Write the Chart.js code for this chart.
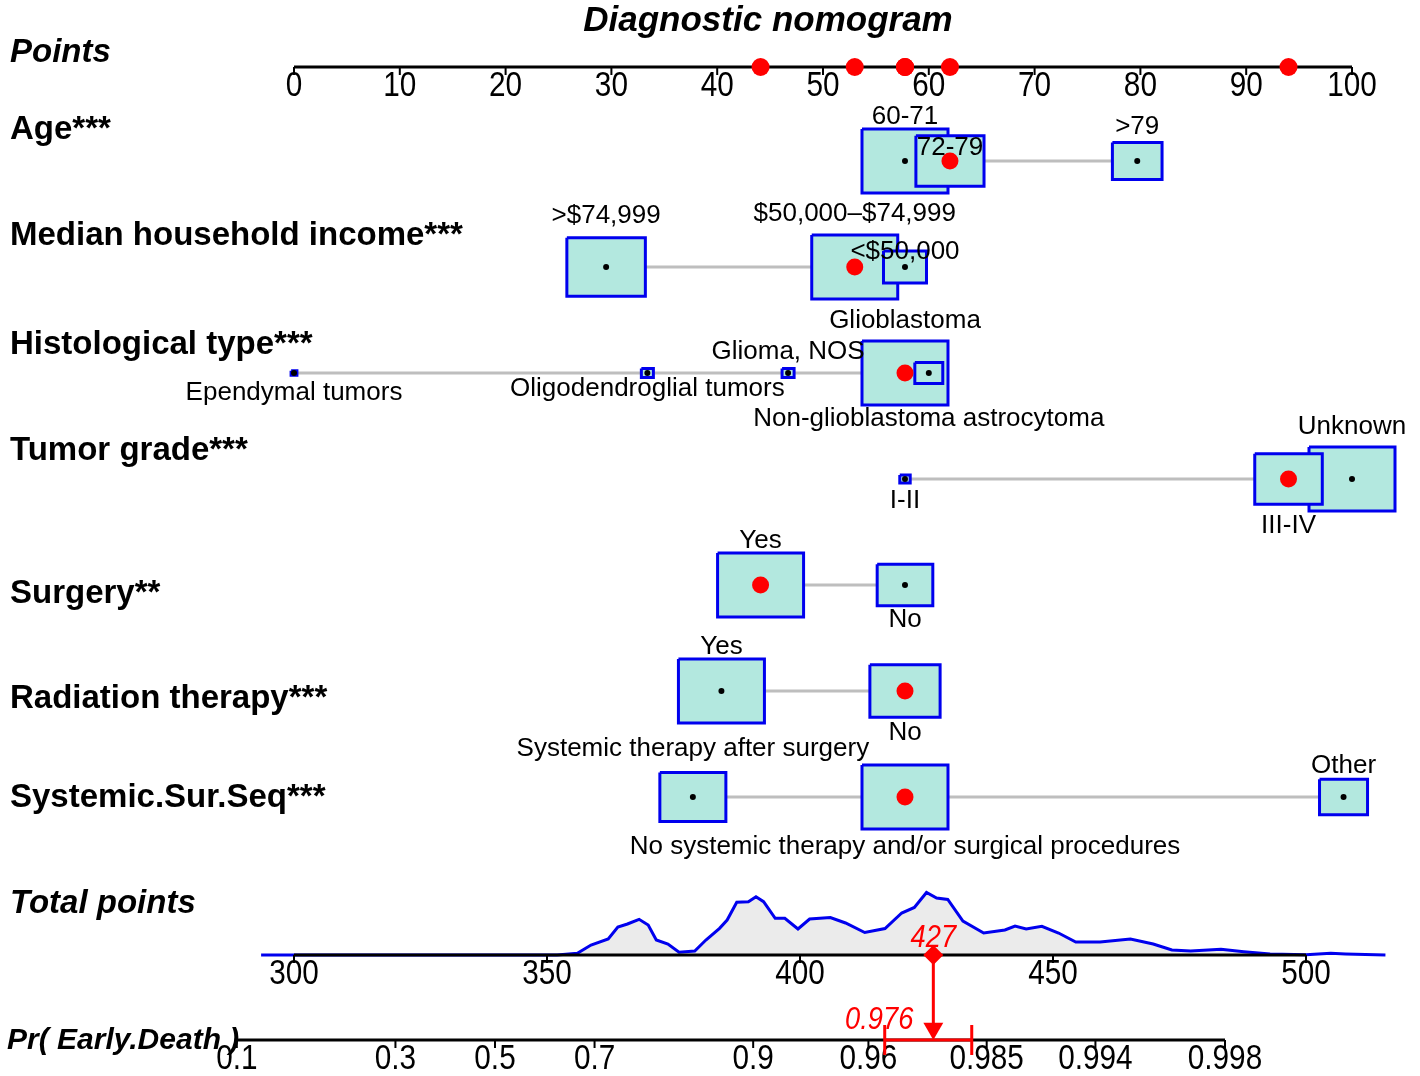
<!DOCTYPE html>
<html>
<head>
<meta charset="utf-8">
<script src="https://cdn.jsdelivr.net/npm/chart.js@4.4.1/dist/chart.umd.min.js"></script>
<style>
    html, body { margin: 0; padding: 0; background: #fff; }
    #wrap { width: 1420px; height: 1076px; }
</style>
</head>
<body>
<div id="wrap"><canvas id="nomogram-chart" width="1420" height="1076"></canvas></div>
<script>
// ---- data ----
var variableNames = ['Age', 'Median household income', 'Histological type', 'Tumor grade',
    'Surgery', 'Radiation therapy', 'Systemic.Sur.Seq'];
var significance = ['***', '***', '***', '***', '**', '***', '***'];

var ageLevels = ['60-71', '72-79', '>79'];
var agePoints = [57.75, 62.0, 79.7];
var ageFreq = [0.51, 0.32, 0.17];

var incomeLevels = ['>$74,999', '$50,000–$74,999', '<$50,000'];
var incomePoints = [29.5, 53.0, 57.75];
var incomeFreq = [0.40, 0.48, 0.12];

var histLevels = ['Ependymal tumors', 'Oligodendroglial tumors', 'Glioma, NOS', 'Glioblastoma',
    'Non-glioblastoma astrocytoma'];
var histPoints = [0, 33.4, 46.7, 57.75, 60.0];
var histFreq = [0.004, 0.017, 0.017, 0.87, 0.092];

var gradeLevels = ['I-II', 'III-IV', 'Unknown'];
var gradePoints = [57.75, 94.0, 100];
var gradeFreq = [0.009, 0.378, 0.613];

var surgeryLevels = ['Yes', 'No'];
var surgeryPoints = [44.1, 57.75];
var surgeryFreq = [0.705, 0.295];

var radiationLevels = ['Yes', 'No'];
var radiationPoints = [40.4, 57.75];
var radiationFreq = [0.60, 0.40];

var systemicLevels = ['Systemic therapy after surgery', 'No systemic therapy and/or surgical procedures', 'Other'];
var systemicPoints = [37.7, 57.75, 99.2];
var systemicFreq = [0.31, 0.526, 0.164];

// chosen level of each variable (red dots)
var selectedLevel = [1, 1, 3, 1, 0, 1, 1];

var pointsTicks = [0, 10, 20, 30, 40, 50, 60, 70, 80, 90, 100];
var totalTicks = [300, 350, 400, 450, 500];
var probTicks = [0.1, 0.3, 0.5, 0.7, 0.9, 0.96, 0.985, 0.994, 0.998];
var probTickLabels = ['0.1', '0.3', '0.5', '0.7', '0.9', '0.96', '0.985', '0.994', '0.998'];

// density of total points (relative height)
var totalGrid = [293.5, 299, 352, 356, 358.7, 362.1, 364, 365.9, 368.2, 370, 371.6, 373.9, 376.1, 379.2,
    381.4, 384.1, 385.6, 387.5, 389.8, 391.3, 392.8, 395.1, 397, 399.6, 401.9, 406, 409, 412.8, 416.8,
    420.1, 422.6, 425, 427, 429.2, 432.2, 436.3, 440.5, 442.5, 444.7, 447.8, 451.1, 454.5, 459.3, 465.3,
    469.8, 473.5, 477.2, 483.2, 487.7, 492.9, 500, 504.9, 507.8, 515.7];
var totalDensity = [0, 0, 0, 0.027, 0.16, 0.256, 0.448, 0.496, 0.571, 0.48, 0.24, 0.176, 0.043, 0.064,
    0.24, 0.427, 0.56, 0.843, 0.853, 0.933, 0.853, 0.587, 0.587, 0.416, 0.576, 0.6, 0.512, 0.36, 0.424,
    0.672, 0.76, 1.0, 0.912, 0.888, 0.544, 0.352, 0.4, 0.464, 0.416, 0.459, 0.352, 0.208, 0.208, 0.256,
    0.176, 0.08, 0.064, 0.091, 0.053, 0.016, 0.005, 0.027, 0.016, 0];

var totalScoreLabel = '427';
var predictedProb = 0.976;
var probCI = [0.965, 0.983];

// ---- layout ----
var W = 1420, H = 1076;
var PX_PER_POINT = 10.58, POINTS_ZERO_PX = 294;
var PX_PER_TOTAL = 5.06, TOTAL_300_PX = 294;
var PX_PER_LOGIT = 117.5, LOGIT_ZERO_PX = 495;
var PX_PER_ROW = 106, ROW1_PX = 161;
var PX_PER_DENS = 62.5, DENS_BASE_PX = 955;
var BOX_W = 86, BOX_H = 64;

var BLUE = '#0000ee', BOX_FILL = '#b3e8df', GREY = '#bebebe', RED = '#ff0000';
var FAMILY = '"Liberation Sans", Arial, sans-serif';

function rowAt(px) { return 1 + (px - ROW1_PX) / PX_PER_ROW; }
var POINTS_ROW = rowAt(67), TOTAL_ROW = rowAt(955), PROB_ROW = rowAt(1040);

function logit(p) { return Math.log(p / (1 - p)); }

// label offsets (px from row centre)
var nameDy = [-31, -31, -28, -28, 9, 8, 1];
var levelDy = [[-44, -13, -34], [-51, -53, -15], [20, 16, -21, -52, 46], [22, 47, -52],
    [-44, 35], [-44, 42], [-48, 50, -31]];

var levels = [ageLevels, incomeLevels, histLevels, gradeLevels, surgeryLevels, radiationLevels, systemicLevels];
var points = [agePoints, incomePoints, histPoints, gradePoints, surgeryPoints, radiationPoints, systemicPoints];
var freqs = [ageFreq, incomeFreq, histFreq, gradeFreq, surgeryFreq, radiationFreq, systemicFreq];

// ---- datasets ----
var datasets = [];

datasets.push({
    label: 'density', xAxisID: 'xt', yAxisID: 'yd',
    data: totalGrid.map(function (t, i) { return {x: t, y: totalDensity[i]}; }),
    borderColor: BLUE, borderWidth: 3, backgroundColor: '#ebebeb',
    fill: {value: 0}, pointRadius: 0, tension: 0, order: 100
});

var totalSum = 0;
points.forEach(function (pts, v) {
    var row = v + 1;
    var lo = Math.min.apply(null, pts), hi = Math.max.apply(null, pts);
    datasets.push({
        label: 'line' + v, data: [{x: lo, y: row}, {x: hi, y: row}],
        borderColor: GREY, borderWidth: 3, fill: false, pointRadius: 0, order: 90
    });
    var fmax = Math.max.apply(null, freqs[v]);
    pts.forEach(function (p, k) {
        var s = Math.sqrt(freqs[v][k] / fmax);
        var hw = BOX_W * s / PX_PER_POINT / 2;
        var hh = BOX_H * s / PX_PER_ROW / 2;
        datasets.push({
            label: levels[v][k],
            data: [{x: p - hw, y: row - hh}, {x: p + hw, y: row - hh}, {x: p + hw, y: row + hh},
                {x: p - hw, y: row + hh}, {x: p - hw, y: row - hh}],
            borderColor: BLUE, borderWidth: 3, backgroundColor: BOX_FILL,
            fill: 'shape', pointRadius: 0, tension: 0, order: 50 + s
        });
        datasets.push({
            label: 'dot', data: [{x: p, y: row}], showLine: false,
            pointRadius: k === selectedLevel[v] ? 8.5 : 3,
            pointBackgroundColor: k === selectedLevel[v] ? RED : '#000',
            pointBorderWidth: 0, order: k === selectedLevel[v] ? 10 : 20
        });
    });
    totalSum += pts[selectedLevel[v]];
});

// red dots on the points axis
datasets.push({
    label: 'chosen', showLine: false, order: 10,
    data: points.map(function (pts, v) { return {x: pts[selectedLevel[v]], y: POINTS_ROW}; }),
    pointRadius: 9, pointBackgroundColor: RED, pointBorderWidth: 0
});

// total points marker and arrow
datasets.push({
    label: 'arrow', xAxisID: 'xt', order: 6,
    data: [{x: totalSum, y: TOTAL_ROW}, {x: totalSum, y: PROB_ROW - 14 / PX_PER_ROW}],
    borderColor: RED, borderWidth: 3, fill: false, pointRadius: 0
});
datasets.push({
    label: 'total', xAxisID: 'xt', showLine: false, order: 5,
    data: [{x: totalSum, y: TOTAL_ROW}],
    pointStyle: 'rectRot', pointRadius: 10, pointBackgroundColor: RED, pointBorderWidth: 0
});
datasets.push({
    label: 'head', xAxisID: 'xt', showLine: false, order: 5,
    data: [{x: totalSum, y: PROB_ROW - 11.5 / PX_PER_ROW}],
    pointStyle: 'triangle', rotation: 180, pointRadius: 11.5,
    pointBackgroundColor: RED, pointBorderWidth: 0
});
// confidence bar on the probability axis
var capH = 15 / PX_PER_ROW;
[[{x: logit(probCI[0]), y: PROB_ROW}, {x: logit(probCI[1]), y: PROB_ROW}],
    [{x: logit(probCI[0]), y: PROB_ROW - capH}, {x: logit(probCI[0]), y: PROB_ROW + capH}],
    [{x: logit(probCI[1]), y: PROB_ROW - capH}, {x: logit(probCI[1]), y: PROB_ROW + capH}]
].forEach(function (seg) {
    datasets.push({
        label: 'ci', xAxisID: 'xp', data: seg, order: 6,
        borderColor: RED, borderWidth: 3, fill: false, pointRadius: 0
    });
});

// ---- drawing helpers ----
function drawText(ctx, text, x, y, font, color, align, sx) {
    ctx.save();
    ctx.font = font;
    ctx.fillStyle = color;
    ctx.textAlign = align || 'left';
    ctx.textBaseline = 'middle';
    ctx.translate(x, y);
    ctx.scale(sx || 1, 1);
    ctx.fillText(text, 0, 0);
    ctx.restore();
}

var TICK_FONT = '35px ' + FAMILY;

function drawAxis(ctx, scale, ypx, ticks, toValue, labels) {
    var x0 = scale.getPixelForValue(toValue(ticks[0]));
    var x1 = scale.getPixelForValue(toValue(ticks[ticks.length - 1]));
    ctx.save();
    ctx.strokeStyle = '#000';
    ctx.lineWidth = 3;
    ctx.beginPath();
    ctx.moveTo(x0, ypx);
    ctx.lineTo(x1, ypx);
    ctx.stroke();
    ctx.lineWidth = 2;
    ticks.forEach(function (t, i) {
        var x = scale.getPixelForValue(toValue(t));
        ctx.beginPath();
        ctx.moveTo(x, ypx);
        ctx.lineTo(x, ypx + 8);
        ctx.stroke();
        drawText(ctx, labels[i], x, ypx + 19, TICK_FONT, '#000', 'center', 0.85);
    });
    ctx.restore();
}

var same = function (v) { return v; };

var nomogramPlugin = {
    id: 'nomogram',
    afterDatasetDraw: function (chart, args) {
        if (args.index !== 0) return;
        var ctx = chart.ctx, y = chart.scales.y;
        drawAxis(ctx, chart.scales.x, y.getPixelForValue(POINTS_ROW), pointsTicks, same,
            pointsTicks.map(String));
        drawAxis(ctx, chart.scales.xt, y.getPixelForValue(TOTAL_ROW), totalTicks, same,
            totalTicks.map(String));
        drawAxis(ctx, chart.scales.xp, y.getPixelForValue(PROB_ROW), probTicks, logit, probTickLabels);
    },
    afterDatasetsDraw: function (chart) {
        var ctx = chart.ctx, x = chart.scales.x, y = chart.scales.y;
        var bi = 'italic bold ';
        drawText(ctx, 'Diagnostic nomogram', 768, 21, bi + '35px ' + FAMILY, '#000', 'center');
        drawText(ctx, 'Points', 10, y.getPixelForValue(POINTS_ROW) - 14, bi + '33px ' + FAMILY, '#000');
        drawText(ctx, 'Total points', 10, y.getPixelForValue(TOTAL_ROW) - 51, bi + '33px ' + FAMILY, '#000');
        drawText(ctx, 'Pr( Early.Death )', 7, y.getPixelForValue(PROB_ROW) + 1, bi + '30px ' + FAMILY, '#000');

        variableNames.forEach(function (name, v) {
            var rowPx = y.getPixelForValue(v + 1);
            drawText(ctx, name + significance[v], 10, rowPx + nameDy[v], 'bold 33px ' + FAMILY, '#000');
            levels[v].forEach(function (lev, k) {
                drawText(ctx, lev, x.getPixelForValue(points[v][k]), rowPx + levelDy[v][k],
                    '26px ' + FAMILY, '#000', 'center');
            });
        });

        var tx = chart.scales.xt.getPixelForValue(totalSum);
        var ty = y.getPixelForValue(TOTAL_ROW);
        drawText(ctx, totalScoreLabel, tx, ty - 17, 'italic 31px ' + FAMILY, RED, 'center', 0.88);
        drawText(ctx, String(predictedProb), tx - 20, y.getPixelForValue(PROB_ROW) - 20,
            'italic 31px ' + FAMILY, RED, 'right', 0.88);
    }
};

var ctx = document.getElementById('nomogram-chart').getContext('2d');
var chart = new Chart(ctx, {
    type: 'line',
    data: {datasets: datasets},
    options: {
        responsive: false,
        animation: false,
        events: [],
        layout: {padding: 0, autoPadding: false},
        plugins: {
            legend: {display: false},
            tooltip: {enabled: false}
        },
        scales: {
            x: {type: 'linear', display: false,
                min: -POINTS_ZERO_PX / PX_PER_POINT, max: (W - POINTS_ZERO_PX) / PX_PER_POINT},
            xt: {type: 'linear', axis: 'x', display: false,
                min: 300 - TOTAL_300_PX / PX_PER_TOTAL, max: 300 + (W - TOTAL_300_PX) / PX_PER_TOTAL},
            xp: {type: 'linear', axis: 'x', display: false,
                min: -LOGIT_ZERO_PX / PX_PER_LOGIT, max: (W - LOGIT_ZERO_PX) / PX_PER_LOGIT},
            y: {type: 'linear', display: false, reverse: true,
                min: rowAt(0), max: rowAt(H)},
            yd: {type: 'linear', axis: 'y', display: false,
                min: -(H - DENS_BASE_PX) / PX_PER_DENS, max: DENS_BASE_PX / PX_PER_DENS}
        }
    },
    plugins: [nomogramPlugin]
});
</script>
</body>
</html>
